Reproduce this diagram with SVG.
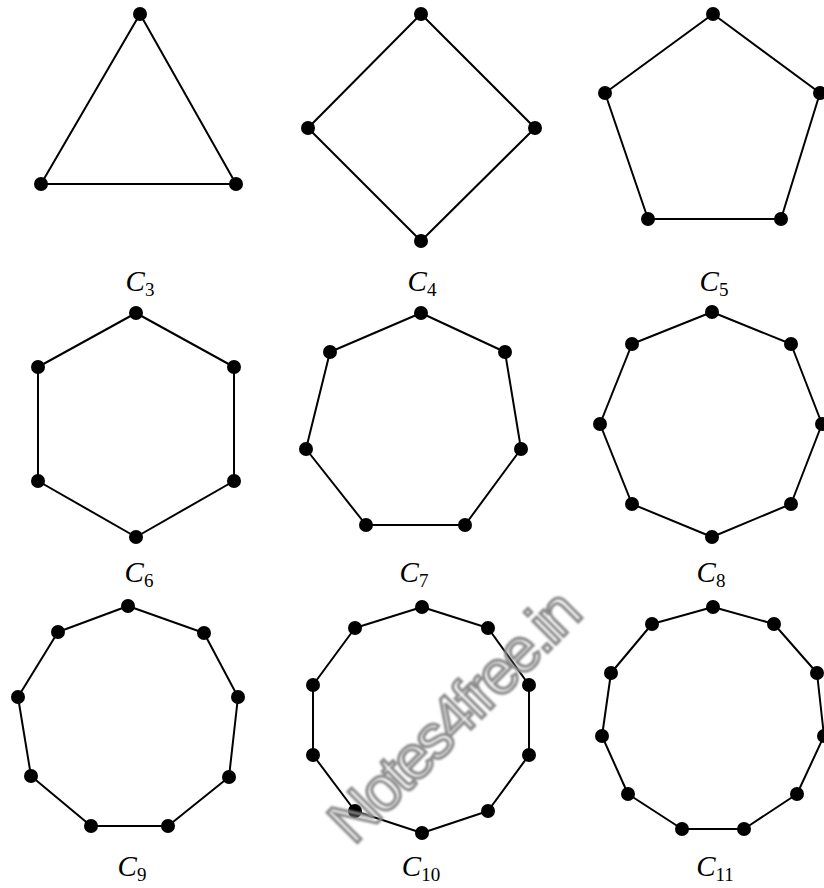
<svg xmlns="http://www.w3.org/2000/svg" xmlns:xlink="http://www.w3.org/1999/xlink" width="824" height="888" viewBox="0 0 824 888">
<style>
.e{fill:none;stroke:#000;stroke-width:2;stroke-linejoin:round}
.lbl{font-family:"Liberation Serif","Times New Roman",serif;font-style:italic;font-size:29px;fill:#000;text-anchor:middle}
.sub{font-style:normal;font-size:19px}
.wm{font-family:"Liberation Sans",Arial,sans-serif;font-size:62px;letter-spacing:-3.5px;fill:none;stroke:#8a8a8a;stroke-width:3}
</style>
<defs>
<circle id="v" r="7" fill="#000"/>
<filter id="blur" x="-10%" y="-10%" width="120%" height="120%"><feGaussianBlur stdDeviation="1.2"/></filter>
</defs>
<rect width="824" height="888" fill="#fff"/>
<g id="connectors">
<polygon class="e" points="140,14 236,184 41,184"/>
<polygon class="e" points="421,14 535,128 421,241 308,128"/>
<polygon class="e" points="713,14 820,93 781,219 648,219 605,93"/>
<polygon class="e" points="136,313 234,367 234,481 136,537 38,481 38,367"/>
<polygon class="e" points="421,313 505,352 521,449 465,525 366,525 306,449 330,352"/>
<polygon class="e" points="712,312 791,344 822,424 791,504 712,537 632,504 600,424 632,344"/>
<polygon class="e" points="128,606 204,633 238,697 229,777 168,826 91,826 31,776 18,697 58,632"/>
<polygon class="e" points="422,607 488,628 529,685 529,755 488,811 422,833 355,811 313,755 313,685 355,628"/>
<polygon class="e" points="713,607 774,624 817,673 824,736 797,794 744,829 682,829 628,794 602,736 611,673 652,624"/>
</g>
<g id="C3">
<use xlink:href="#v" x="140" y="14"/><use xlink:href="#v" x="236" y="184"/><use xlink:href="#v" x="41" y="184"/>
<text class="lbl" x="140" y="291">C<tspan class="sub" dy="5">3</tspan></text>
</g>
<g id="C4">
<use xlink:href="#v" x="421" y="14"/><use xlink:href="#v" x="535" y="128"/><use xlink:href="#v" x="421" y="241"/><use xlink:href="#v" x="308" y="128"/>
<text class="lbl" x="422" y="291">C<tspan class="sub" dy="5">4</tspan></text>
</g>
<g id="C5">
<use xlink:href="#v" x="713" y="14"/><use xlink:href="#v" x="820" y="93"/><use xlink:href="#v" x="781" y="219"/><use xlink:href="#v" x="648" y="219"/><use xlink:href="#v" x="605" y="93"/>
<text class="lbl" x="714" y="291">C<tspan class="sub" dy="5">5</tspan></text>
</g>
<g id="C6">
<use xlink:href="#v" x="136" y="313"/><use xlink:href="#v" x="234" y="367"/><use xlink:href="#v" x="234" y="481"/><use xlink:href="#v" x="136" y="537"/><use xlink:href="#v" x="38" y="481"/><use xlink:href="#v" x="38" y="367"/>
<text class="lbl" x="139" y="582">C<tspan class="sub" dy="5">6</tspan></text>
</g>
<g id="C7">
<use xlink:href="#v" x="421" y="313"/><use xlink:href="#v" x="505" y="352"/><use xlink:href="#v" x="521" y="449"/><use xlink:href="#v" x="465" y="525"/><use xlink:href="#v" x="366" y="525"/><use xlink:href="#v" x="306" y="449"/><use xlink:href="#v" x="330" y="352"/>
<text class="lbl" x="414" y="582">C<tspan class="sub" dy="5">7</tspan></text>
</g>
<g id="C8">
<use xlink:href="#v" x="712" y="312"/><use xlink:href="#v" x="791" y="344"/><use xlink:href="#v" x="822" y="424"/><use xlink:href="#v" x="791" y="504"/><use xlink:href="#v" x="712" y="537"/><use xlink:href="#v" x="632" y="504"/><use xlink:href="#v" x="600" y="424"/><use xlink:href="#v" x="632" y="344"/>
<text class="lbl" x="711" y="582">C<tspan class="sub" dy="5">8</tspan></text>
</g>
<g id="C9">
<use xlink:href="#v" x="128" y="606"/><use xlink:href="#v" x="204" y="633"/><use xlink:href="#v" x="238" y="697"/><use xlink:href="#v" x="229" y="777"/><use xlink:href="#v" x="168" y="826"/><use xlink:href="#v" x="91" y="826"/><use xlink:href="#v" x="31" y="776"/><use xlink:href="#v" x="18" y="697"/><use xlink:href="#v" x="58" y="632"/>
<text class="lbl" x="132" y="876">C<tspan class="sub" dy="5">9</tspan></text>
</g>
<g id="C10">
<use xlink:href="#v" x="422" y="607"/><use xlink:href="#v" x="488" y="628"/><use xlink:href="#v" x="529" y="685"/><use xlink:href="#v" x="529" y="755"/><use xlink:href="#v" x="488" y="811"/><use xlink:href="#v" x="422" y="833"/><use xlink:href="#v" x="355" y="811"/><use xlink:href="#v" x="313" y="755"/><use xlink:href="#v" x="313" y="685"/><use xlink:href="#v" x="355" y="628"/>
<text class="lbl" x="421" y="876">C<tspan class="sub" dy="5">10</tspan></text>
</g>
<g id="C11">
<use xlink:href="#v" x="713" y="607"/><use xlink:href="#v" x="774" y="624"/><use xlink:href="#v" x="817" y="673"/><use xlink:href="#v" x="824" y="736"/><use xlink:href="#v" x="797" y="794"/><use xlink:href="#v" x="744" y="829"/><use xlink:href="#v" x="682" y="829"/><use xlink:href="#v" x="628" y="794"/><use xlink:href="#v" x="602" y="736"/><use xlink:href="#v" x="611" y="673"/><use xlink:href="#v" x="652" y="624"/>
<text class="lbl" x="715" y="876">C<tspan class="sub" dy="5">11</tspan></text>
</g>
<g id="watermark" filter="url(#blur)">
<text class="wm" x="0" y="0" text-anchor="middle" transform="translate(468,732) rotate(-45)">Notes4free.in</text>
</g>
</svg>
